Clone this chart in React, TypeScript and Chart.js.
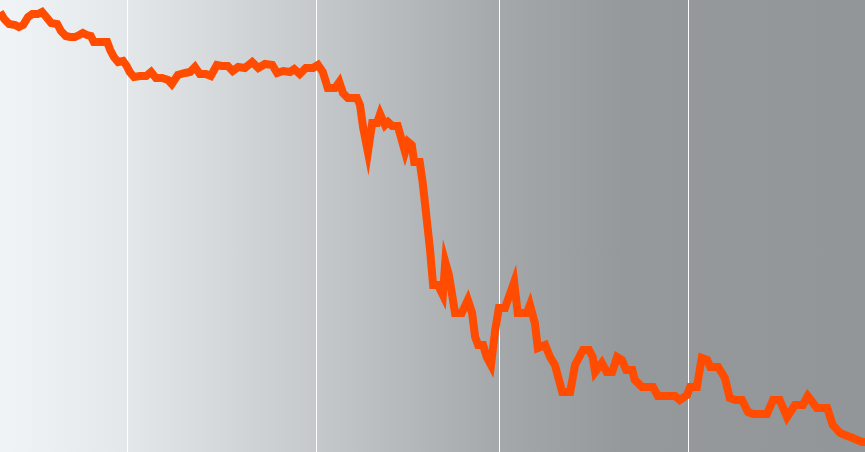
import { useEffect, useRef } from "react"
import { Chart, registerables } from "chart.js"

Chart.register(...registerables)

// day offsets from the start of the period
const days = [
  0, 0.7, 1.5, 2.5, 3.1, 3.8, 4.6, 5.3, 6.2, 6.9, 7.6, 8.4, 9.4, 10.0, 10.8, 11.5, 12.3, 13.0,
  13.6, 14.3, 14.9, 15.4, 16.4, 17.6, 18.1, 18.7, 19.4, 20.2, 20.8, 21.3, 22.0, 23.0, 24.0,
  24.8, 25.6, 26.6, 27.6, 28.2, 29.2, 30.4, 31.2, 32.0, 32.8, 33.8, 34.6, 35.6, 36.4, 37.4,
  38.2, 39.1, 40.2, 41.4, 42.4, 43.5, 44.7, 45.5, 46.5, 47.6, 48.3, 49.2, 50.2, 51.4, 52.2,
  53.0, 53.8, 55.0, 55.7, 56.3, 57.1, 58.6, 59.1, 59.6, 60.4, 61.1, 61.9, 62.4, 63.2, 63.7,
  64.4, 65.3, 66.5, 67.0, 67.6, 68.0, 68.9, 69.4, 70.3, 70.6, 71.1, 71.9, 72.7, 73.1, 73.7,
  74.7, 75.8, 76.8, 77.5, 78.0, 78.5, 79.3, 79.9, 80.6, 81.3, 81.9, 82.9, 84.4, 85.0, 86.5,
  87.0, 87.8, 88.3, 89.5, 90.3, 91.1, 92.3, 93.6, 94.4, 95.7, 96.7, 97.3, 97.7, 98.8, 99.6,
  100.5, 101.3, 102.1, 102.8, 103.8, 104.2, 105.4, 107.2, 108.0, 108.8, 110.8, 111.6, 112.8,
  113.3, 114.4, 115.2, 116.1, 116.6, 117.9, 119.0, 119.8, 120.7, 121.8, 122.8, 123.6, 125.9,
  126.9, 128.0, 129.2, 130.5, 131.8, 132.6, 134.1, 135.8, 136.7, 137.9, 138.7, 140.0, 141.5,
  142.0,
]

const prices = [
  110, 108.25, 107, 106.75, 106.25, 106.75, 108.75, 109.5, 109.5, 110, 108.75, 107.25, 107,
  105.25, 104, 103.75, 103.75, 104.25, 104.75, 104.25, 104, 102.5, 102.5, 102.5, 100.5, 98.75,
  97.5, 97.75, 96.5, 95, 93.75, 94, 94, 95, 93.5, 93.5, 93, 92, 94.25, 94.75, 95, 96.25, 94.5,
  94.5, 94, 96.75, 96.5, 96.5, 95.25, 96.25, 96, 97.5, 96, 97, 96.75, 94.75, 95.25, 95, 95.75,
  94.5, 96, 96, 96.75, 95, 91, 91, 92.5, 89.75, 88.5, 88.5, 86.75, 81.25, 75, 82.25, 82.25,
  84.5, 81.75, 82.5, 81.5, 81.5, 75, 77.5, 76.75, 72.5, 72.5, 67.25, 54.75, 50.5, 41.75, 41.75,
  39.25, 47.5, 44.25, 34.75, 34.75, 38, 34.75, 28.75, 26.75, 26.75, 23.75, 21.75, 30.5, 36, 36,
  42.5, 34.75, 34.75, 36.75, 32.25, 26, 26.75, 23.75, 21.75, 15, 15, 21.75, 25.5, 25.5, 23.75,
  20, 22.25, 20, 20, 23.75, 23, 20.5, 20.5, 18, 16.25, 16.25, 14, 14, 14, 13, 14.25, 16.25,
  16.25, 23.5, 23, 21.25, 21.25, 18.5, 13.5, 13, 13, 10, 9.5, 9.5, 13, 13, 8.75, 11.75, 11.75,
  14, 11, 11, 6.75, 4.75, 4.25, 3.5, 2.5, 2.5,
]

// month boundaries (gridlines)
const monthStarts = [21, 52, 82, 113]

export default function App() {
  const canvasRef = useRef<HTMLCanvasElement>(null)
  const chartRef = useRef<Chart | null>(null)

  useEffect(() => {
    if (!canvasRef.current) return
    if (chartRef.current) chartRef.current.destroy()

    chartRef.current = new Chart(canvasRef.current, {
      type: "line",
      data: {
        datasets: [
          {
            data: days.map((d, i) => ({ x: d, y: prices[i] })),
            borderColor: "#ff4c00",
            borderWidth: 8,
            pointRadius: 0,
            tension: 0,
            fill: false,
          },
        ],
      },
      options: {
        animation: false,
        responsive: true,
        maintainAspectRatio: false,
        layout: { padding: 0 },
        plugins: {
          legend: { display: false },
          tooltip: { enabled: false },
        },
        scales: {
          x: {
            type: "linear",
            min: 0,
            max: 142,
            afterBuildTicks: (axis) => {
              axis.ticks = monthStarts.map((v) => ({ value: v }))
            },
            ticks: { display: false },
            grid: { color: "#ffffff", lineWidth: 1, drawTicks: false },
            border: { display: false },
          },
          y: {
            display: false,
            min: 0,
            max: 113,
          },
        },
      },
    })

    return () => {
      if (chartRef.current) {
        chartRef.current.destroy()
        chartRef.current = null
      }
    }
  }, [])

  return (
    <div
      style={{
        position: "fixed",
        left: 0,
        top: 0,
        width: 865,
        height: 452,
        background:
          "linear-gradient(90deg, #f1f4f7 0%, #e4e7ea 15%, #c5c8cb 37%, #a5a8aa 58%, #96999b 72%, #939698 100%)",
      }}
    >
      <canvas ref={canvasRef}></canvas>
    </div>
  )
}
